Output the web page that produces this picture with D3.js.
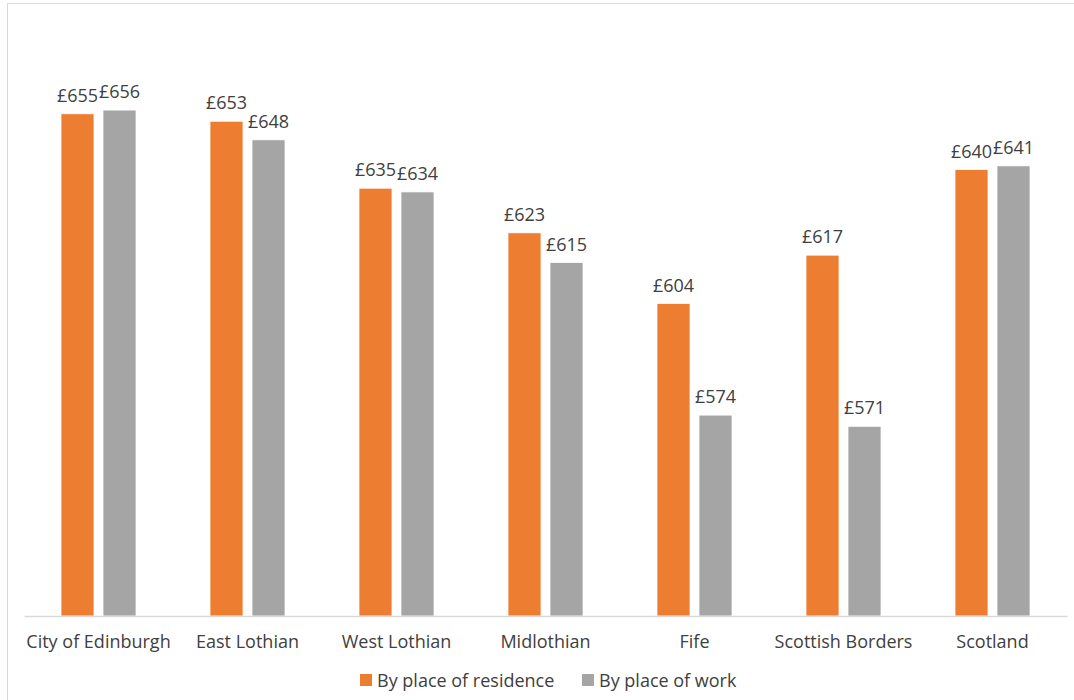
<!DOCTYPE html>
<html>
<head>
<meta charset="utf-8">
<script src="https://cdn.jsdelivr.net/npm/d3@7"></script>
<style>
  html, body { margin: 0; padding: 0; background: #fff; }
  svg { display: block; }
  text { font-family: "Open Sans", Lato, sans-serif; fill: #404040; }
</style>
</head>
<body>
<svg id="chart" width="1074" height="700"></svg>
<script>
// Median weekly earnings by area
const categories = ["City of Edinburgh", "East Lothian", "West Lothian", "Midlothian", "Fife", "Scottish Borders", "Scotland"];
const residence = [655, 653, 635, 623, 604, 617, 640];
const work = [656, 648, 634, 615, 574, 571, 641];
const seriesNames = ["By place of residence", "By place of work"];
const seriesColors = ["#ED7D31", "#A5A5A5"];
const yDomain = [520, 680];

const FONT = "'Open Sans', Lato, sans-serif";
const FS = 18;
const svg = d3.select("#chart");

// outer frame of the chart area
svg.append("rect")
  .attr("x", 7.5).attr("y", 3.5)
  .attr("width", 1100).attr("height", 720)
  .attr("fill", "#fff").attr("stroke", "#d9d9d9").attr("stroke-width", 1);

const plot = { left: 24, right: 1067, top: 20.8, bottom: 616 };

const x = d3.scaleBand()
  .domain(categories)
  .range([plot.left, plot.right])
  .paddingInner(0)
  .paddingOuter(0);

const y = d3.scaleLinear().domain(yDomain).range([plot.bottom, plot.top]);

const barW = 33, gap = 9;
const offsets = [-(barW + gap) / 2, (barW + gap) / 2];
const series = [residence, work];

const bars = svg.append("g");
series.forEach((vals, si) => {
  const g = bars.append("g");
  g.selectAll("rect")
    .data(categories.map((c, i) => ({ c, v: vals[i] })))
    .join("rect")
    .attr("x", d => x(d.c) + x.bandwidth() / 2 + offsets[si] - barW / 2)
    .attr("y", d => y(d.v))
    .attr("width", barW)
    .attr("height", d => y(yDomain[0]) - y(d.v))
    .attr("fill", seriesColors[si])
    .attr("stroke", "#fff").attr("stroke-width", 0.75);

  g.selectAll("text")
    .data(categories.map((c, i) => ({ c, v: vals[i] })))
    .join("text")
    .attr("x", d => x(d.c) + x.bandwidth() / 2 + offsets[si])
    .attr("y", d => y(d.v) - 12)
    .attr("text-anchor", "middle")
    .attr("font-size", FS)
    .text(d => "£" + d.v);
});

// category axis
const xAxis = svg.append("g")
  .attr("transform", `translate(0,${plot.bottom})`)
  .call(d3.axisBottom(x).tickSize(0).tickPadding(19));
xAxis.select(".domain").attr("stroke", "#d9d9d9").attr("stroke-width", 1.5);
xAxis.selectAll("text")
  .attr("font-size", FS)
  .attr("font-family", FONT)
  .attr("fill", "#595959");

// legend
const legendItems = [{ x: 360, name: seriesNames[0], color: seriesColors[0] },
                     { x: 582, name: seriesNames[1], color: seriesColors[1] }];
const legend = svg.append("g");
legendItems.forEach(it => {
  legend.append("rect")
    .attr("x", it.x).attr("y", 674)
    .attr("width", 12).attr("height", 12)
    .attr("fill", it.color);
  legend.append("text")
    .attr("x", it.x + 17).attr("y", 687)
    .attr("font-size", FS)
    .attr("fill", "#595959")
    .text(it.name);
});
</script>
</body>
</html>
